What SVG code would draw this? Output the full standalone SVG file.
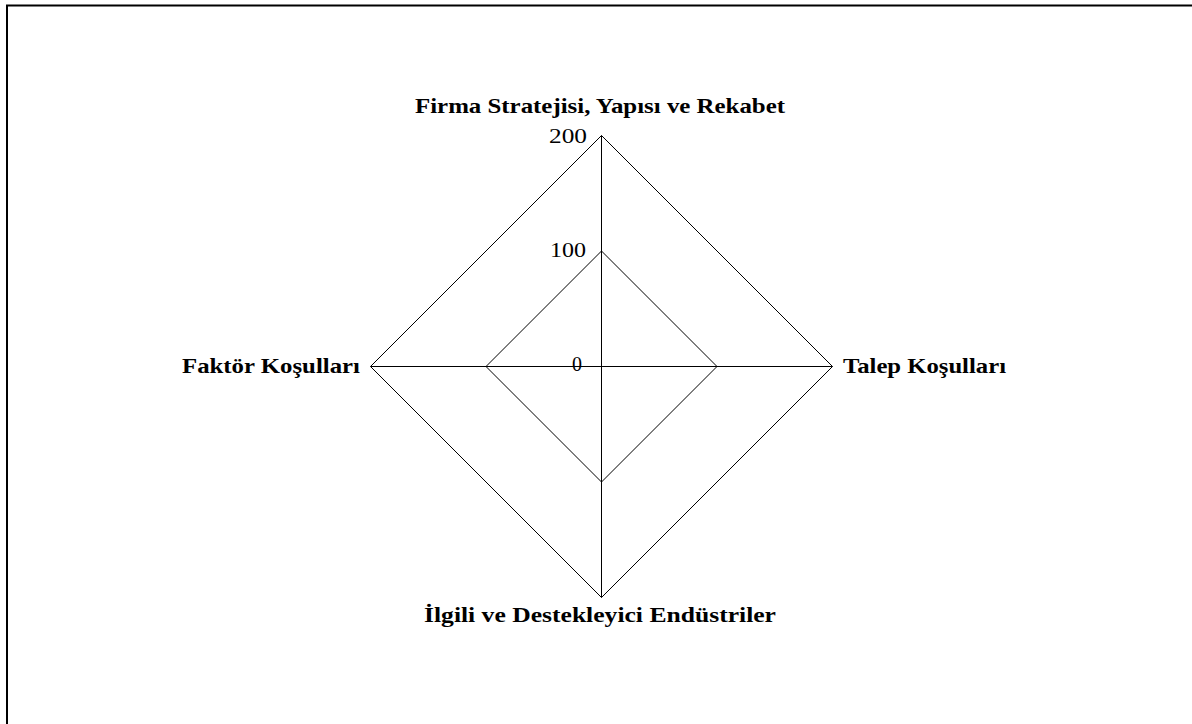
<svg xmlns="http://www.w3.org/2000/svg" width="1192" height="724" viewBox="0 0 1192 724">
<style>
.grid{fill:none;stroke:#000;stroke-width:1}
.ax{stroke:#000;stroke-width:1}
.lbl{font-family:"Liberation Serif","Times New Roman",serif;font-weight:bold;font-size:21px;fill:#000}
.tick{font-family:"Liberation Serif","Times New Roman",serif;font-size:20px;fill:#000}
</style>
<rect width="1192" height="724" fill="#fff"/>
<rect x="7" y="5.5" width="1200" height="740" fill="none" stroke="#000" stroke-width="2"/>
<g id="connectors">
<polygon class="grid" points="601.5,135.5 832.5,366.5 601.5,597.5 370.5,366.5"/>
<polygon class="grid" points="601.5,251 717,366.5 601.5,482 486,366.5"/>
<line class="ax" x1="601.5" y1="135.5" x2="601.5" y2="597.5"/>
<line class="ax" x1="370.5" y1="366.5" x2="832.5" y2="366.5"/>
</g>
<g id="ticks">
<text class="tick" x="549" y="143" textLength="38" lengthAdjust="spacingAndGlyphs">200</text>
<text class="tick" x="550" y="257" textLength="36" lengthAdjust="spacingAndGlyphs">100</text>
<text class="tick" x="572" y="371" textLength="10" lengthAdjust="spacingAndGlyphs">0</text>
</g>
<g id="node-top"><text class="lbl" x="415" y="113" textLength="370" lengthAdjust="spacingAndGlyphs">Firma Stratejisi, Yapısı ve Rekabet</text></g>
<g id="node-right"><text class="lbl" x="843" y="373" textLength="163" lengthAdjust="spacingAndGlyphs">Talep Koşulları</text></g>
<g id="node-bottom"><text class="lbl" x="424" y="622" textLength="352" lengthAdjust="spacingAndGlyphs">İlgili ve Destekleyici Endüstriler</text></g>
<g id="node-left"><text class="lbl" x="182" y="373" textLength="178" lengthAdjust="spacingAndGlyphs">Faktör Koşulları</text></g>
</svg>
